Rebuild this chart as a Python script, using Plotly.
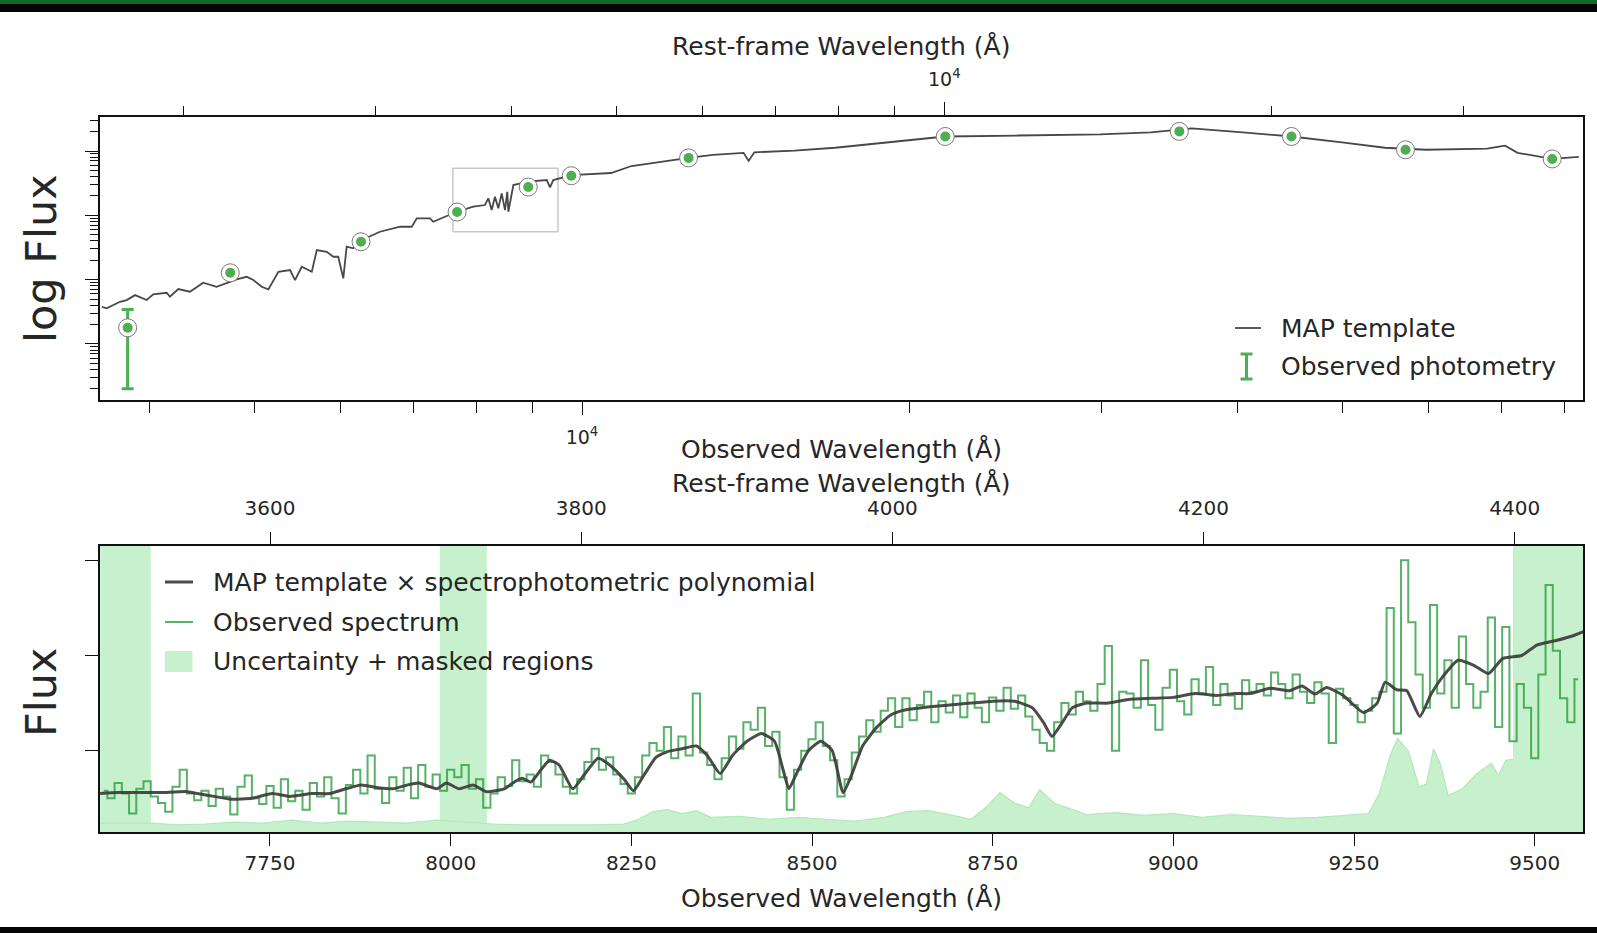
import plotly.graph_objects as go
import math

W, H = 1597, 933
ONE_PLUS_Z = 2.1528

# ---------------- top panel data (observed wavelength in Angstrom, log10 flux) -------------
sed_wave = [3619, 3657, 3762, 3815, 3884, 3980, 4036, 4152, 4181, 4256,
            4362, 4486, 4615, 4730, 4815, 4918, 4988, 5077, 5149, 5260,
            5391, 5448, 5526, 5645, 5705, 5826, 5908, 5970, 6034, 6077,
            6163, 6274, 6521, 6804, 6975, 7049, 7250, 7300, 7671, 7945,
            8143, 8201, 8260, 8318, 8377, 8437, 8496, 8537, 8557, 8648,
            8925, 9281, 9346, 9410, 9784, 10633, 11104, 12528, 13195, 14076,
            14229, 14400, 15675, 17083, 19030, 21563, 25190, 29930, 33340, 36340,
            40480, 44880, 50160, 54700, 59680, 67900, 70530, 72430, 77910, 82440]
sed_logflux = [-18.421, -18.446, -18.344, -18.317, -18.240, -18.317, -18.229, -18.204, -18.266, -18.146,
               -18.188, -18.048, -18.110, -18.048, -17.995, -17.955, -18.006, -18.110, -18.151, -17.877,
               -17.851, -18.006, -17.799, -17.877, -17.540, -17.566, -17.644, -17.644, -17.980, -17.488,
               -17.513, -17.384, -17.255, -17.177, -17.177, -17.047, -17.047, -17.100, -16.944, -16.866,
               -16.840, -16.736, -16.918, -16.711, -16.891, -16.658, -16.918, -16.633, -16.944, -16.529,
               -16.477, -16.451, -16.565, -16.451, -16.373, -16.342, -16.233, -16.107, -16.059, -16.028,
               -16.154, -16.020, -15.995, -15.949, -15.869, -15.774, -15.759, -15.742, -15.711, -15.647,
               -15.711, -15.774, -15.869, -15.949, -15.980, -15.964, -15.916, -16.028, -16.123, -16.090]

phot_wave = [3823, 4750, 6265, 7677, 8925, 9776, 12530, 21570, 35400, 44880, 57130, 77930]
phot_logflux = [-18.748, -17.893, -17.411, -16.949, -16.560, -16.384, -16.107, -15.774,
                -15.695, -15.774, -15.980, -16.123]
# only the bluest band has a visible error bar
err_wave = [3823]
err_logflux = [-18.748]
err_logflux_hi = [-18.462]
err_logflux_lo = [-19.697]

# grey box marking the spectroscopic range
box_wave = [7610, 9505]
box_logflux = [-17.255, -16.269]

# ---------------- bottom panel data (observed wavelength, flux in arbitrary units) ---------
spec_wave = list(range(7520, 9561, 10))
spec_flux = [
    0.58, 0.50, 0.66, 0.55, 0.34, 0.60, 0.68, 0.52, 0.45, 0.36,
    0.62, 0.80, 0.55, 0.48, 0.58, 0.42, 0.60, 0.52, 0.33, 0.62,
    0.74, 0.50, 0.44, 0.63, 0.40, 0.70, 0.47, 0.58, 0.38, 0.66,
    0.52, 0.72, 0.50, 0.34, 0.64, 0.80, 0.55, 0.95, 0.60, 0.45,
    0.72, 0.58, 0.82, 0.50, 0.85, 0.62, 0.75, 0.58, 0.80, 0.72,
    0.85, 0.60, 0.70, 0.40, 0.55, 0.72, 0.63, 0.90, 0.68, 0.75,
    0.62, 0.95, 0.88, 0.75, 0.62, 0.55, 0.70, 0.88, 1.02, 0.80,
    0.93, 0.75, 0.65, 0.55, 0.72, 0.95, 1.08, 1.00, 1.25, 0.92,
    1.15, 0.95, 1.60, 0.98, 0.85, 0.70, 0.92, 1.15, 1.02, 1.30,
    1.22, 1.45, 1.05, 1.20, 0.72, 0.38, 0.80, 1.00, 1.12, 1.30,
    1.05, 0.90, 0.52, 0.70, 0.98, 1.15, 1.32, 1.20, 1.42, 1.55,
    1.25, 1.55, 1.32, 1.48, 1.62, 1.30, 1.52, 1.40, 1.58, 1.35,
    1.60, 1.45, 1.30, 1.56, 1.42, 1.66, 1.44, 1.58, 1.36, 1.22,
    1.08, 1.00, 1.30, 1.50, 1.38, 1.62, 1.52, 1.42, 1.70, 2.10,
    1.00, 1.62, 1.60, 1.45, 1.95, 1.48, 1.22, 1.66, 1.85, 1.52,
    1.38, 1.75, 1.60, 1.88, 1.48, 1.70, 1.58, 1.44, 1.74, 1.62,
    1.70, 1.58, 1.82, 1.70, 1.55, 1.80, 1.62, 1.50, 1.72, 1.60,
    1.08, 1.65, 1.55, 1.48, 1.30, 1.42, 1.55, 1.62, 2.50, 1.18,
    3.00, 2.35, 1.80, 1.45, 2.53, 1.60, 1.95, 1.45, 2.20, 1.70,
    1.45, 1.62, 2.40, 1.25, 2.30, 1.10, 1.70, 1.45, 0.92, 1.80,
    2.74, 2.05, 1.55, 1.30, 1.75]

model_wave = [7515, 7540, 7570, 7600, 7635, 7665, 7697, 7725, 7753, 7777,
              7808, 7833, 7855, 7876, 7900, 7920, 7940, 7956, 7981, 7994,
              8012, 8031, 8049, 8074, 8090, 8099, 8111, 8125, 8137, 8150,
              8169, 8185, 8204, 8220, 8240, 8253, 8268, 8284, 8300, 8320,
              8340, 8355, 8373, 8390, 8410, 8430, 8448, 8460, 8468, 8478,
              8495, 8512, 8528, 8543, 8555, 8570, 8590, 8610, 8630, 8660,
              8690, 8720, 8750, 8780, 8805, 8820, 8832, 8845, 8860, 8880,
              8910, 8940, 8970, 9000, 9030, 9060, 9085, 9106, 9134, 9161,
              9178, 9196, 9212, 9235, 9263, 9282, 9293, 9309, 9323, 9341,
              9357, 9373, 9394, 9415, 9436, 9456, 9482, 9503, 9531, 9554, 9567]
model_flux = [0.55, 0.56, 0.56, 0.56, 0.57, 0.53, 0.49, 0.50, 0.55, 0.52,
              0.55, 0.55, 0.60, 0.64, 0.61, 0.60, 0.64, 0.66, 0.60, 0.66,
              0.60, 0.64, 0.57, 0.60, 0.68, 0.71, 0.67, 0.80, 0.90, 0.85,
              0.60, 0.75, 0.92, 0.85, 0.70, 0.58, 0.75, 0.93, 0.99, 1.02,
              1.05, 0.95, 0.76, 0.95, 1.10, 1.18, 1.10, 0.80, 0.60, 0.75,
              1.00, 1.10, 1.00, 0.56, 0.75, 1.05, 1.25, 1.38, 1.43, 1.46,
              1.48, 1.50, 1.52, 1.52, 1.45, 1.30, 1.15, 1.28, 1.45, 1.50,
              1.50, 1.54, 1.55, 1.56, 1.60, 1.58, 1.60, 1.60, 1.655, 1.63,
              1.68, 1.595, 1.665, 1.58, 1.40, 1.50, 1.72, 1.64, 1.63, 1.36,
              1.60, 1.78, 1.95, 1.90, 1.81, 1.97, 2.00, 2.11, 2.16, 2.21, 2.25]

unc_wave = [7515, 7590, 7620, 7660, 7700, 7740, 7780, 7820, 7860, 7900,
            7940, 7980, 8060, 8100, 8150, 8200, 8240, 8260, 8280, 8300,
            8320, 8340, 8360, 8400, 8440, 8480, 8520, 8560, 8600, 8630,
            8660, 8690, 8720, 8740, 8760, 8780, 8800, 8815, 8835, 8860,
            8880, 8920, 8960, 9000, 9040, 9080, 9120, 9160, 9200, 9240,
            9270, 9285, 9300, 9310, 9325, 9340, 9350, 9360, 9370, 9380,
            9400, 9420, 9440, 9450, 9460, 9470]
unc_flux = [0.24, 0.24, 0.22, 0.23, 0.25, 0.24, 0.27, 0.24, 0.26, 0.25,
            0.24, 0.27, 0.23, 0.22, 0.22, 0.22, 0.23, 0.28, 0.36, 0.38,
            0.34, 0.37, 0.30, 0.31, 0.28, 0.30, 0.28, 0.26, 0.30, 0.36,
            0.37, 0.33, 0.28, 0.40, 0.56, 0.45, 0.40, 0.59, 0.45, 0.38,
            0.33, 0.35, 0.32, 0.34, 0.30, 0.33, 0.31, 0.29, 0.30, 0.32,
            0.34, 0.55, 0.95, 1.13, 1.00, 0.62, 0.65, 1.02, 0.85, 0.53,
            0.60, 0.76, 0.87, 0.74, 0.90, 0.91]

masked_start = [7515, 7985, 9470]
masked_end = [7585, 8050, 9567]

obs_range_lin = [7514.8, 9566.8]
obs_range_log = [3.5570, 4.9200]
flux_range = [0.146, 3.150]
logflux_range = [-19.871, -15.471]
flux_ticks = [1, 2, 3]
obs_ticks_lin = [7750, 8000, 8250, 8500, 8750, 9000, 9250, 9500]
rest_ticks_lin = [3600, 3800, 4000, 4200, 4400]
obs_minor_log = [4000, 5000, 6000, 7000, 8000, 9000, 20000, 30000, 40000, 50000, 60000, 70000, 80000]
rest_minor_log = [2000, 3000, 4000, 5000, 6000, 7000, 8000, 9000, 20000, 30000]
flux_major_log = [1e-19, 1e-18, 1e-17, 1e-16]
flux_minor_log = [m * 10.0 ** e for e in range(-20, -15) for m in range(2, 10)]

# ---------------- styling ----------------
FONT = "DejaVu Sans"
TXT = "#262626"
GREEN = "rgb(77,175,80)"
PALE = "rgb(199,240,205)"
SPEC = "rgba(40,155,60,0.78)"
MODEL_BOT = "rgba(60,60,60,0.92)"
MODEL_TOP = "#484848"

def px(x):
    return x / W

def py(y):
    return 1 - y / H

XDOM = [px(100), px(1583)]
TOPDOM = [py(400), py(117)]
BOTDOM = [py(832), py(546)]

fig = go.Figure()

# ---- top panel ----
fig.add_trace(go.Scatter(
    x=[box_wave[0], box_wave[1], box_wave[1], box_wave[0], box_wave[0]],
    y=[10 ** box_logflux[0], 10 ** box_logflux[0], 10 ** box_logflux[1], 10 ** box_logflux[1], 10 ** box_logflux[0]],
    mode="lines", line=dict(color="#c8c8c8", width=1.5), xaxis="x3", yaxis="y3",
    showlegend=False, hoverinfo="skip"))
fig.add_trace(go.Scatter(
    x=sed_wave, y=[10 ** v for v in sed_logflux], mode="lines",
    line=dict(color=MODEL_TOP, width=1.8), xaxis="x3", yaxis="y3", showlegend=False))
# same template on the rest-frame axis (invisible, keeps the top axis alive)
fig.add_trace(go.Scatter(
    x=[v / ONE_PLUS_Z for v in sed_wave], y=[10 ** v for v in sed_logflux], mode="lines",
    line=dict(color="rgba(0,0,0,0)", width=0), xaxis="x4", yaxis="y3",
    showlegend=False, hoverinfo="skip"))
fig.add_trace(go.Scatter(
    x=err_wave, y=[10 ** v for v in err_logflux], mode="markers",
    marker=dict(size=1, color="rgba(0,0,0,0)"),
    error_y=dict(type="data", symmetric=False,
                 array=[10 ** h - 10 ** v for h, v in zip(err_logflux_hi, err_logflux)],
                 arrayminus=[10 ** v - 10 ** l for l, v in zip(err_logflux_lo, err_logflux)],
                 color=GREEN, thickness=3, width=6),
    xaxis="x3", yaxis="y3", showlegend=False))
fig.add_trace(go.Scatter(
    x=phot_wave, y=[10 ** v for v in phot_logflux], mode="markers",
    marker=dict(size=18, color="white", line=dict(color="#7a7a7a", width=1)),
    xaxis="x3", yaxis="y3", showlegend=False))
fig.add_trace(go.Scatter(
    x=phot_wave, y=[10 ** v for v in phot_logflux], mode="markers",
    marker=dict(size=10, color=GREEN, line=dict(width=0)),
    xaxis="x3", yaxis="y3", showlegend=False))

# ---- bottom panel ----
fig.add_trace(go.Scatter(
    x=unc_wave, y=unc_flux, mode="lines", fill="tozeroy", fillcolor=PALE,
    line=dict(color="rgb(178,232,186)", width=1.2), xaxis="x", yaxis="y", showlegend=False))
fig.add_trace(go.Scatter(
    x=spec_wave, y=spec_flux, mode="lines", line=dict(color=SPEC, width=2, shape="hvh"),
    xaxis="x", yaxis="y", showlegend=False))
fig.add_trace(go.Scatter(
    x=model_wave, y=model_flux, mode="lines",
    line=dict(color=MODEL_BOT, width=3, shape="spline", smoothing=0.5),
    xaxis="x", yaxis="y", showlegend=False))
# same model on the rest-frame axis (invisible, keeps the top axis alive)
fig.add_trace(go.Scatter(
    x=[v / ONE_PLUS_Z for v in model_wave], y=model_flux, mode="lines",
    line=dict(color="rgba(0,0,0,0)", width=0), xaxis="x2", yaxis="y",
    showlegend=False, hoverinfo="skip"))

shapes = []
for a, b in zip(masked_start, masked_end):
    shapes.append(dict(type="rect", xref="x", yref="y domain", x0=a, x1=b, y0=0, y1=1,
                       fillcolor=PALE, line=dict(width=0), layer="below"))

# frame artefacts of the original scan (top/bottom edges)
shapes.append(dict(type="rect", xref="paper", yref="paper", x0=0, x1=1, y0=py(4), y1=1,
                   fillcolor="#0d6b2a", line=dict(width=0)))
shapes.append(dict(type="rect", xref="paper", yref="paper", x0=0, x1=1, y0=py(12), y1=py(4),
                   fillcolor="#050505", line=dict(width=0)))
shapes.append(dict(type="rect", xref="paper", yref="paper", x0=0, x1=1, y0=0, y1=py(927),
                   fillcolor="#050505", line=dict(width=0)))

# ---- manual legends ----
# top legend
shapes.append(dict(type="line", xref="paper", yref="paper", x0=px(1235), x1=px(1261),
                   y0=py(328), y1=py(328), line=dict(color=MODEL_TOP, width=1.8)))
shapes.append(dict(type="line", xref="paper", yref="paper", x0=px(1246.5), x1=px(1246.5),
                   y0=py(354), y1=py(379), line=dict(color=GREEN, width=3)))
for yy in (354, 379):
    shapes.append(dict(type="line", xref="paper", yref="paper", x0=px(1240.5), x1=px(1252.5),
                       y0=py(yy), y1=py(yy), line=dict(color=GREEN, width=3)))
# bottom legend
shapes.append(dict(type="line", xref="paper", yref="paper", x0=px(165), x1=px(193),
                   y0=py(582), y1=py(582), line=dict(color=MODEL_BOT, width=3)))
shapes.append(dict(type="line", xref="paper", yref="paper", x0=px(165), x1=px(193),
                   y0=py(622), y1=py(622), line=dict(color=SPEC, width=2)))
shapes.append(dict(type="rect", xref="paper", yref="paper", x0=px(165), x1=px(192.5),
                   y0=py(672), y1=py(651), fillcolor=PALE, line=dict(width=0)))

def ann(text, x, y, size=25, angle=0, xanchor="center"):
    return dict(text=text, x=px(x), y=py(y), xref="paper", yref="paper", showarrow=False,
                xanchor=xanchor, yanchor="middle", textangle=angle,
                font=dict(family=FONT, size=size, color=TXT))

annotations = [
    ann("Rest-frame Wavelength (Å)", 841, 46),
    ann("Observed Wavelength (Å)", 841, 449),
    ann("Rest-frame Wavelength (Å)", 841, 483),
    ann("Observed Wavelength (Å)", 841, 898),
    ann("log Flux", 41, 259, size=43, angle=-90),
    ann("Flux", 41, 693, size=43, angle=-90),
    ann("MAP template", 1279, 328, xanchor="left"),
    ann("Observed photometry", 1279, 366, xanchor="left"),
    ann("MAP template × spectrophotometric polynomial", 211, 582, xanchor="left"),
    ann("Observed spectrum", 211, 622, xanchor="left"),
    ann("Uncertainty + masked regions", 211, 661, xanchor="left"),
]

def axis_common(size=20):
    return dict(showgrid=False, zeroline=False, showline=True, linecolor="#111111",
                linewidth=1.6, ticks="outside", tickcolor="#111111", tickwidth=1.4,
                tickfont=dict(family=FONT, size=size, color=TXT))

fig.update_layout(
    width=W, height=H, margin=dict(l=0, r=0, t=0, b=0),
    paper_bgcolor="white", plot_bgcolor="white", showlegend=False,
    font=dict(family=FONT, color=TXT),
    shapes=shapes, annotations=annotations,
    # bottom panel
    xaxis=dict(domain=XDOM, anchor="y", range=obs_range_lin, tickmode="array",
               tickvals=obs_ticks_lin, ticklen=12, **axis_common()),
    xaxis2=dict(domain=XDOM, anchor="y", overlaying="x", side="top",
                range=[obs_range_lin[0] / ONE_PLUS_Z, obs_range_lin[1] / ONE_PLUS_Z],
                tickmode="array", tickvals=rest_ticks_lin, ticklen=12,
                ticklabelstandoff=9, **axis_common()),
    yaxis=dict(domain=BOTDOM, anchor="x", range=flux_range, tickmode="array",
               tickvals=flux_ticks, showticklabels=False, ticklen=13, mirror=True, **axis_common()),
    # top panel
    xaxis3=dict(domain=XDOM, anchor="y3", type="log", range=obs_range_log,
                tickmode="array", tickvals=[10000], ticktext=["10<sup>4</sup>"], ticklen=13,
                ticklabelstandoff=6,
                minor=dict(tickmode="array", tickvals=obs_minor_log, ticks="outside", ticklen=11,
                           tickcolor="#111111", tickwidth=1.2),
                **axis_common(19)),
    xaxis4=dict(domain=XDOM, anchor="y3", overlaying="x3", side="top", type="log",
                range=[obs_range_log[0] - math.log10(ONE_PLUS_Z), obs_range_log[1] - math.log10(ONE_PLUS_Z)],
                tickmode="array", tickvals=[10000], ticktext=["10<sup>4</sup>"], ticklen=13,
                ticklabelstandoff=9,
                minor=dict(tickmode="array", tickvals=rest_minor_log, ticks="outside", ticklen=9,
                           tickcolor="#111111", tickwidth=1.2),
                **axis_common(19)),
    yaxis3=dict(domain=TOPDOM, anchor="x3", type="log", range=logflux_range,
                tickmode="array", tickvals=flux_major_log, showticklabels=False, ticklen=13,
                minor=dict(tickmode="array", tickvals=flux_minor_log, ticks="outside", ticklen=8,
                           tickcolor="#111111", tickwidth=1.0),
                mirror=True, **axis_common()),
)

fig.write_html("out.html")
